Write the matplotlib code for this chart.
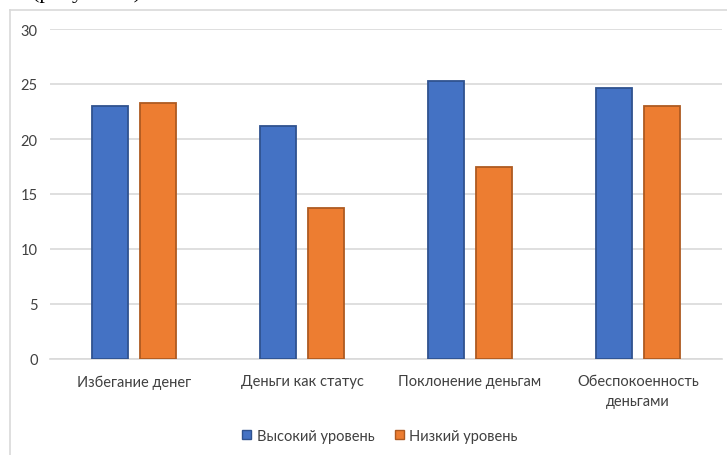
import matplotlib
matplotlib.use("Agg")
import matplotlib.pyplot as plt
from matplotlib.lines import Line2D
from matplotlib.patches import Patch
import numpy as np

categories = ["Избегание денег", "Деньги как статус", "Поклонение деньгам", "Обеспокоенность\nденьгами"]
high_level = [23.0, 21.2, 25.3, 24.6]
low_level = [23.3, 13.7, 17.5, 23.0]
series_names = ["Высокий уровень", "Низкий уровень"]
y_ticks = [0, 5, 10, 15, 20, 25, 30]

plt.rcParams["font.family"] = ["Lato", "DejaVu Sans"]

W, H = 727, 456
fig = plt.figure(figsize=(W / 100, H / 100), dpi=100)
ax = fig.add_axes([50 / W, 1 - 360 / H, (722 - 50) / W, (360 - 30) / H])

x = np.arange(len(categories))
width = 0.214
offset = 0.143
blue, blue_edge = "#4472C4", "#2F528F"
orange, orange_edge = "#ED7D31", "#AE5A21"

ax.bar(x - offset, high_level, width, color=blue, edgecolor=blue_edge, linewidth=1.3, zorder=3)
ax.bar(x + offset, low_level, width, color=orange, edgecolor=orange_edge, linewidth=1.3, zorder=3)

ax.set_xlim(-0.5, len(categories) - 0.5)
ax.set_ylim(0, 30)
ax.set_yticks(y_ticks)
ax.set_yticklabels([str(t) for t in y_ticks], fontsize=10.5, color="#404040")
ax.set_xticks(x)
ax.set_xticklabels(categories, fontsize=10.5, color="#404040", linespacing=1.5)
ax.tick_params(axis="both", length=0)
ax.tick_params(axis="y", pad=9)
ax.tick_params(axis="x", pad=11)
ax.grid(axis="y", color="#D9D9D9", linewidth=1.2, zorder=0)
for side in ["top", "right", "left"]:
    ax.spines[side].set_visible(False)
ax.spines["bottom"].set_color("#D9D9D9")
ax.spines["bottom"].set_linewidth(1.2)

handles = [Patch(facecolor=blue, edgecolor=blue_edge, linewidth=1),
           Patch(facecolor=orange, edgecolor=orange_edge, linewidth=1)]
fig.legend(handles, series_names, loc="center", bbox_to_anchor=(380 / W, 1 - 437 / H),
           ncol=2, frameon=False, fontsize=10.5, handlelength=0.6, handleheight=0.6,
           handletextpad=0.4, columnspacing=1.4, labelcolor="#404040")

# chart area frame (left and top edges)
fig.add_artist(Line2D([9.5 / W, 9.5 / W], [0, 1 - 11 / H], color="#D9D9D9", linewidth=1.2))
fig.add_artist(Line2D([9.5 / W, 1], [1 - 11 / H, 1 - 11 / H], color="#D9D9D9", linewidth=1.2))

# caption line above the chart, cut off by the page edge
fig.text(32 / W, 1 + 2 / H, "(рисунок 1)", family=["Liberation Serif"], fontsize=16,
         va="baseline", ha="left", color="black")

fig.savefig("out.png", dpi=100)
